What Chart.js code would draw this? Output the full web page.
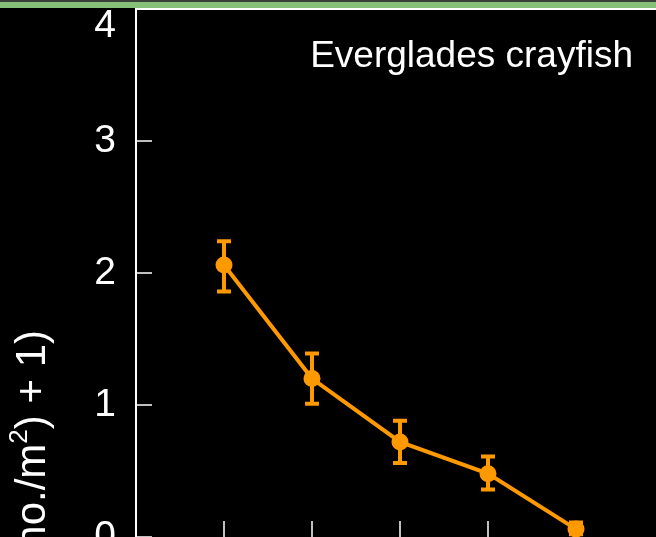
<!DOCTYPE html>
<html><head><meta charset="UTF-8">
<title>Everglades crayfish</title>
<script src="https://cdn.jsdelivr.net/npm/chart.js"></script>
<style>
html,body{margin:0;padding:0;width:656px;height:537px;overflow:hidden;background:#000}
.band{position:absolute;left:0;top:0;width:656px;height:8px;background:#86bf78;border-top:2px solid #3a3f3a;box-sizing:border-box}
.wrap{position:absolute;left:0;top:0;width:760px;height:600px}
</style>
</head><body>
<div class="band"></div>
<div class="wrap"><canvas id="c"></canvas></div>
<script>
// valores
const categories = [1, 2, 3, 4, 5];
const means = [2.06, 1.2, 0.72, 0.48, 0.06];
const upper = [2.24, 1.39, 0.88, 0.61, 0.11];
const lower = [1.86, 1.01, 0.56, 0.36, 0.02];
const yTicks = [0, 1, 2, 3, 4];
const panelLabel = 'Everglades crayfish';
const yTitle = ['log(Density (no./m', '2', ') + 1)'];

const orange = '#FF9900';
const FONT = '"Liberation Sans", Arial, sans-serif';

// moldura, ticks para dentro, barras de erro e textos
const decor = {
  id: 'decor',
  beforeDatasetsDraw(chart) {
    const { ctx, chartArea: a, scales: { x, y } } = chart;
    ctx.save();
    ctx.strokeStyle = '#fff';
    ctx.lineWidth = 2;
    ctx.beginPath();
    ctx.moveTo(a.left, a.bottom + 10);
    ctx.lineTo(a.left, a.top);
    ctx.lineTo(a.right, a.top);
    ctx.stroke();
    ctx.lineWidth = 1.5;
    ctx.beginPath();
    yTicks.forEach(v => { const p = y.getPixelForValue(v); ctx.moveTo(a.left, p); ctx.lineTo(a.left + 16, p); });
    categories.forEach(v => { const p = x.getPixelForValue(v); ctx.moveTo(p, a.bottom); ctx.lineTo(p, a.bottom - 16); });
    ctx.stroke();

    ctx.strokeStyle = orange;
    ctx.lineWidth = 4;
    categories.forEach((c, i) => {
      const px = x.getPixelForValue(c);
      const hi = y.getPixelForValue(upper[i]);
      const lo = y.getPixelForValue(lower[i]);
      ctx.beginPath();
      ctx.moveTo(px, hi); ctx.lineTo(px, lo);
      ctx.moveTo(px - 7, hi); ctx.lineTo(px + 7, hi);
      ctx.moveTo(px - 7, lo); ctx.lineTo(px + 7, lo);
      ctx.stroke();
    });
    ctx.restore();
  },
  afterDraw(chart) {
    const { ctx } = chart;
    ctx.save();
    ctx.fillStyle = '#fff';
    ctx.font = '37px ' + FONT;
    ctx.textAlign = 'right';
    ctx.textBaseline = 'alphabetic';
    ctx.fillText(panelLabel, 633, 67);

    // título do eixo y, girado
    ctx.translate(45, 330);
    ctx.rotate(-Math.PI / 2);
    ctx.textAlign = 'left';
    const big = '42px ' + FONT, small = '26px ' + FONT;
    ctx.font = big; const w1 = ctx.measureText(yTitle[0]).width, w3 = ctx.measureText(yTitle[2]).width;
    ctx.font = small; const w2 = ctx.measureText(yTitle[1]).width;
    let x0 = -(w1 + w2 + w3);
    ctx.font = big; ctx.fillText(yTitle[0], x0, 0);
    ctx.font = small; ctx.fillText(yTitle[1], x0 + w1, -18);
    ctx.font = big; ctx.fillText(yTitle[2], x0 + w1 + w2, 0);
    ctx.restore();
  }
};

new Chart(document.getElementById('c'), {
  type: 'line',
  data: {
    datasets: [{
      data: categories.map((c, i) => ({ x: c, y: means[i] })),
      borderColor: orange,
      borderWidth: 4,
      pointRadius: 8.5,
      pointBackgroundColor: orange,
      pointBorderWidth: 0,
      tension: 0
    }]
  },
  options: {
    responsive: true,
    maintainAspectRatio: false,
    animation: false,
    layout: { autoPadding: false, padding: { left: 0, top: 9, right: 8, bottom: 63 } },
    plugins: { legend: { display: false }, tooltip: { enabled: false } },
    scales: {
      x: { type: 'linear', min: 0, max: 7, display: false },
      y: {
        min: 0, max: 4,
        afterFit(s) { s.width = 136; s.paddingTop = 0; s.paddingBottom = 0; },
        grid: { display: false, drawTicks: false, tickLength: 0 },
        border: { display: false },
        ticks: {
          stepSize: 1, color: '#fff', padding: 20,
          font: { family: FONT, size: 39, lineHeight: 0.87 },
          callback: v => v === yTicks[yTicks.length - 1] ? ['', String(v)] : String(v)
        }
      }
    }
  },
  plugins: [decor]
});
</script>
</body></html>
